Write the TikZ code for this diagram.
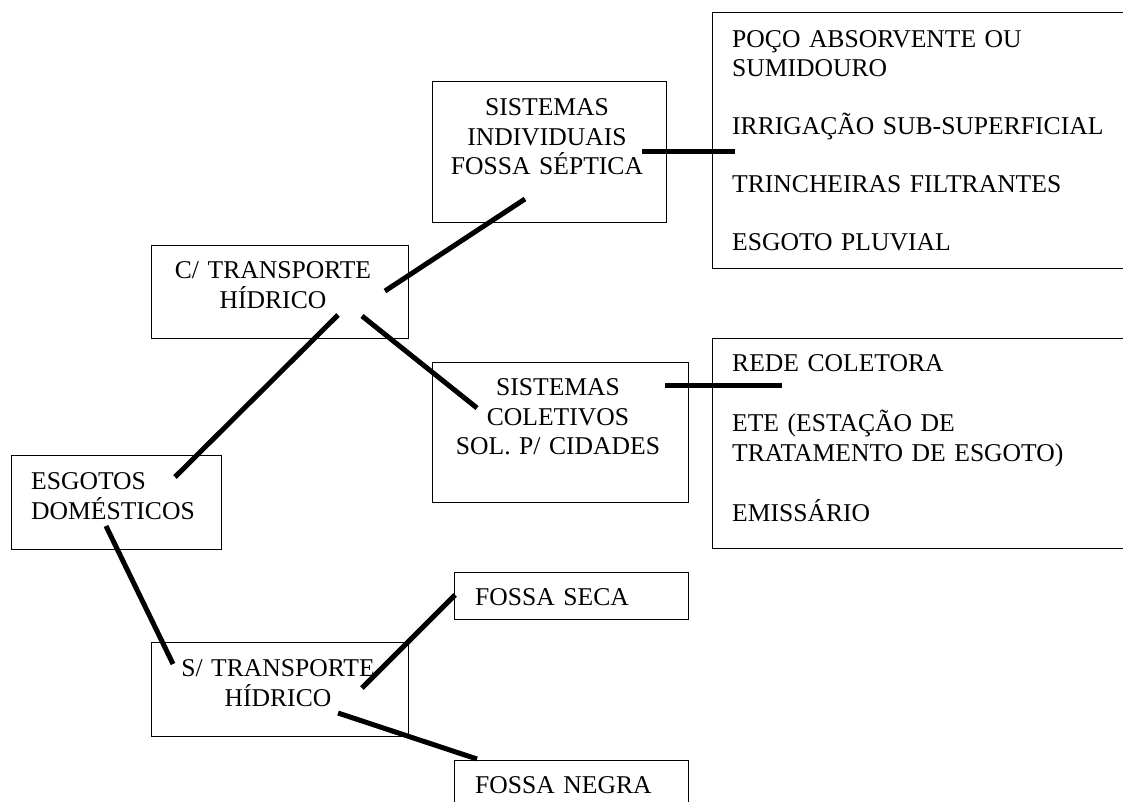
\documentclass[tikz,border=0pt]{standalone}
\usepackage{fontspec}
\setmainfont{Liberation Serif}
\usetikzlibrary{calc}

\tikzset{
	caixa/.style={draw, line width=1.4pt, inner sep=0pt, anchor=north west},
	texto/.style={inner sep=0pt, font=\fontsize{25.6}{29.7}\selectfont},
	esq/.style={texto, align=left, anchor=base west},
	meio/.style={texto, align=center, anchor=base},
	ligacao/.style={line width=5pt}
}

\begin{document}
\begin{tikzpicture}[x=1pt, y=-1pt]
		\useasboundingbox (0,0) rectangle (1123,802);

		% caixas
		\node[caixa, minimum width=210, minimum height=94] (esg) at (11,455) {};
		\node[caixa, minimum width=257, minimum height=93] (ctr) at (151,245) {};
		\node[caixa, minimum width=257, minimum height=94] (str) at (151,642) {};
		\node[caixa, minimum width=234, minimum height=141] (ind) at (432,81) {};
		\node[caixa, minimum width=256, minimum height=140] (col) at (432,362) {};
		\node[caixa, minimum width=430, minimum height=256] (dest1) at (712,12) {};
		\node[caixa, minimum width=430, minimum height=210] (dest2) at (712,338) {};
		\node[caixa, minimum width=234, minimum height=47] (seca) at (454,572) {};
		\node[caixa, minimum width=234, minimum height=60] (negra) at (454,760) {};

		% textos
		\node[esq, text width=185] (esg-t) at (31,489.5) {ESGOTOS\\DOMÉSTICOS};
		\node[meio, text width=240] (ctr-t) at (273,278.5) {C/ TRANSPORTE\\HÍDRICO};
		\node[meio, text width=240] (str-t) at (278,676.5) {S/ TRANSPORTE\\HÍDRICO};
		\node[meio, text width=230] (ind-t) at (547,115.5) {SISTEMAS\\INDIVIDUAIS\\FOSSA SÉPTICA};
		\node[meio, text width=250] (col-t) at (558,395.5) {SISTEMAS\\COLETIVOS\\SOL. P/ CIDADES};
		\node[esq, text width=385, font=\fontsize{25.6}{29}\selectfont] (dest1-t) at (732,47.5)
			{POÇO ABSORVENTE OU\\SUMIDOURO\\[\baselineskip]IRRIGAÇÃO SUB-SUPERFICIAL\\[\baselineskip]TRINCHEIRAS FILTRANTES\\[\baselineskip]ESGOTO PLUVIAL};
		\node[esq, text width=385, font=\fontsize{25.6}{30}\selectfont] (dest2-t) at (732,371.5)
			{REDE COLETORA\\[\baselineskip]ETE (ESTAÇÃO DE\\TRATAMENTO DE ESGOTO)\\[\baselineskip]EMISSÁRIO};
		\node[esq, text width=200] (seca-t) at (475,605.5) {FOSSA SECA};
		\node[esq, text width=200] (negra-t) at (475,793.5) {FOSSA NEGRA};

		% ligacoes
		\draw[ligacao] ($(esg.north west)+(164,22)$) -- ($(ctr.north west)+(187,70)$); % 175,477 -> 338,315
		\draw[ligacao] ($(esg.north west)+(95,71)$) -- ($(str.north west)+(22,22)$); % 106,526 -> 173,664
		\draw[ligacao] ($(ctr.north west)+(234,46)$) -- ($(ind.north west)+(93,118)$);
		\draw[ligacao] ($(ctr.north west)+(211,71)$) -- ($(col.north west)+(45,46)$);
		\draw[ligacao] ($(ind.north west)+(210,71)$) -- ($(dest1.north west)+(23,140)$);
		\draw[ligacao] ($(col.north west)+(233,23)$) -- ($(dest2.north west)+(70,47)$);
		\draw[ligacao] ($(str.north west)+(211,46)$) -- ($(seca.north west)+(1,23)$);
		\draw[ligacao] ($(str.north west)+(187,71)$) -- ($(negra.north west)+(23,-1)$);
	\end{tikzpicture}
\end{document}
